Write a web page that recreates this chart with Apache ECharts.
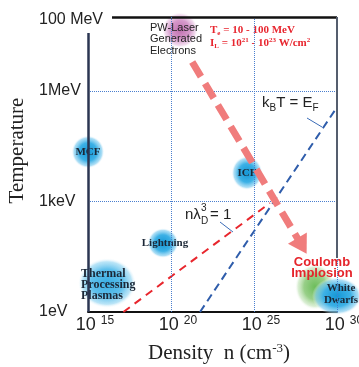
<!DOCTYPE html>
<html>
<head>
<meta charset="utf-8">
<script src="https://cdn.jsdelivr.net/npm/echarts@6/dist/echarts.min.js"></script>
<style>
  html, body { margin: 0; padding: 0; background: #fff; }
  #chart { width: 359px; height: 367px; }
</style>
</head>
<body>
<div id="chart"></div>
<script>
// axis ticks (density in cm^-3, temperature in eV)
const densityTicks = [1e15, 1e20, 1e25, 1e30];
const tempTicks = [1, 1e3, 1e6, 1e8];
const tempTickLabels = ['1eV', '1keV', '1MeV', '100 MeV'];

// plasma regimes (bubble centres)
const regimeNames = ['PW-Laser\nGenerated\nElectrons', 'MCF', 'ICF', 'Lightning',
  'Thermal\nProcessing\nPlasmas', 'Coulomb\nImplosion', 'White\nDwarfs'];
const regimeDensity = [3.5e20, 1e15, 3.8e24, 3.3e19, 1.4e16, 4.7e28, 1e30];
const regimeTemp = [4.4e7, 2.2e4, 5.9e3, 74, 6.1, 4.8, 2.7];

// k_B T = E_F  (blue dashed)
const fermiDensity = [5.6e21, 1e30];
const fermiTemp = [1, 3.6e5];
// n lambda_D^3 = 1  (red dashed)
const debyeDensity = [1.35e17, 9e25];
const debyeTemp = [1, 900];
// laser electrons -> coulomb implosion (big arrow)
const pathDensity = [1.9e21, 7.8e27];
const pathTemp = [6e6, 62];

const SANS = 'Liberation Sans';
const SERIF = 'Liberation Serif';

function glow(c0, c1, c2) {
  return {
    type: 'radial', x: 0.5, y: 0.5, r: 0.5,
    colorStops: [
      { offset: 0, color: c0 },
      { offset: 0.55, color: c1 },
      { offset: 0.85, color: c2 },
      { offset: 1, color: 'rgba(255,255,255,0)' }
    ]
  };
}
const blue = glow('#1597d6', '#3db1e6', 'rgba(130,205,240,0.65)');
const lightBlue = glow('#3aaee3', '#5fc0ec', 'rgba(150,215,243,0.65)');
const pink = glow('#c070b0', '#d69acb', 'rgba(232,195,226,0.6)');
const green = glow('#6dbd5b', '#98cf88', 'rgba(195,228,185,0.6)');
const ellipse = 'path://M0,50 A50,50 0 1 1 100,50 A50,50 0 1 1 0,50 Z';

const bubbleLabel = { show: true, position: 'inside', fontFamily: SERIF, fontWeight: 'bold', fontSize: 11, color: '#1b2736', lineHeight: 12 };
// per-bubble looks, same order as regimeNames
const bubbleLook = [
  { size: [36, 36], color: pink, label: { fontFamily: SANS, fontWeight: 'normal', color: '#222', align: 'left', offset: [-30, 9], lineHeight: 11.5 } },
  { size: [33, 33], color: blue, label: {} },
  { size: [31, 34], color: blue, label: {} },
  { size: [31, 30], color: blue, label: { offset: [2, 0] } },
  { size: [58, 50], color: lightBlue, label: { align: 'left', offset: [-26, 2], fontSize: 12, lineHeight: 11 } },
  { size: [40, 46], color: green, label: { fontFamily: SANS, fontSize: 13, color: '#e5242b', offset: [7, -19], lineHeight: 11.5 } },
  { size: [50, 38], color: blue, label: { offset: [4, -2] } }
];

const bubbles = regimeNames.map((name, i) => ({
  name: name,
  value: [regimeDensity[i], regimeTemp[i]],
  symbolSize: bubbleLook[i].size,
  itemStyle: { color: bubbleLook[i].color, opacity: 1 },
  label: Object.assign({}, bubbleLabel, bubbleLook[i].label, { formatter: name })
}));

const gridLine = { color: '#4a7fcf', width: 1, type: 'dotted' };

const option = {
  animation: false,
  grid: { left: 88, right: 22, top: 17, bottom: 55, outerBoundsMode: 'none' },
  xAxis: {
    type: 'log', logBase: 10, min: densityTicks[0], max: densityTicks[densityTicks.length - 1], interval: 5,
    axisLine: { show: true, lineStyle: { color: '#111', width: 2 } },
    axisTick: { show: false },
    splitLine: { show: false },
    axisLabel: {
      margin: 3,
      formatter: v => '{b|10}{s|' + Math.round(Math.log10(v)) + '}',
      rich: {
        b: { fontFamily: SANS, fontSize: 18, color: '#222', padding: [0, 0, 0, 14] },
        s: { fontFamily: SANS, fontSize: 12, color: '#222', padding: [0, 0, 9, 5] }
      }
    },
    name: '{a|Density  n (cm}{s|-3}{a|)}',
    nameLocation: 'middle', nameGap: 30,
    nameTextStyle: {
      padding: [0, 0, 0, 13],
      rich: {
        a: { fontFamily: SERIF, fontSize: 21, color: '#222' },
        s: { fontFamily: SERIF, fontSize: 13, color: '#222', padding: [0, 0, 10, 0] }
      }
    }
  },
  yAxis: {
    type: 'log', logBase: 10, min: tempTicks[0], max: tempTicks[tempTicks.length - 1], interval: 1,
    axisLine: { show: false },
    axisTick: { show: false },
    splitLine: { show: false },
    axisLabel: {
      align: 'left', margin: 49,
      fontFamily: SANS, fontSize: 16, color: '#222',
      formatter: v => {
        const i = tempTicks.findIndex(t => Math.abs(Math.log10(t) - Math.log10(v)) < 0.01);
        if (i < 0) return '';
        return i === tempTicks.length - 1 ? '{top|' + tempTickLabels[i] + '}' : tempTickLabels[i];
      },
      rich: { top: { fontFamily: SANS, fontSize: 16, color: '#222', padding: [6, 0, 0, 0] } }
    },
    name: 'Temperature',
    nameLocation: 'middle', nameGap: 52,
    nameTextStyle: { fontFamily: SERIF, fontSize: 21, color: '#222', padding: [0, 0, 0, 28] }
  },
  series: [
    {
      // dotted reference lines behind bubbles
      type: 'line', data: [], silent: true,
      markLine: {
        silent: true, symbol: 'none', label: { show: false }, lineStyle: gridLine,
        data: [{ xAxis: densityTicks[2] }, { xAxis: densityTicks[3] }, { yAxis: tempTicks[1] }, { yAxis: tempTicks[2] }]
      }
    },
    {
      // frame
      type: 'line', data: [], silent: true,
      markLine: {
        silent: true, symbol: 'none', label: { show: false },
        lineStyle: { type: 'solid' },
        data: [
          [{ coord: [2.8e16, 1e8], lineStyle: { color: '#111', width: 2.5, type: 'solid' } }, { coord: [1e30, 1e8] }],
          [{ coord: [1e15, 3.7e7], lineStyle: { color: '#2b3652', width: 2.5, type: 'solid' } }, { coord: [1e15, 1] }],
          [{ coord: [1e30, 1e8], lineStyle: { color: '#555e6e', width: 2, type: 'solid' } }, { coord: [1e30, 29] }]
        ]
      }
    },
    {
      // 10^20 line sits over the bubbles
      type: 'line', data: [], silent: true, z: 4,
      markLine: {
        silent: true, symbol: 'none', label: { show: false }, lineStyle: gridLine,
        data: [{ xAxis: densityTicks[1] }]
      }
    },
    {
      type: 'line', showSymbol: false, silent: true,
      lineStyle: { color: '#2f5dab', width: 2, type: [8, 5] },
      data: fermiDensity.map((d, i) => [d, fermiTemp[i]])
    },
    {
      type: 'line', showSymbol: false, silent: true,
      lineStyle: { color: '#e8262d', width: 2, type: [8, 6] },
      data: debyeDensity.map((d, i) => [d, debyeTemp[i]])
    },
    {
      type: 'line', data: [], silent: true,
      markLine: {
        silent: true, symbol: ['none', 'triangle'], symbolSize: [22, 18], label: { show: false },
        lineStyle: { color: '#f07c7c', width: 7, type: [17, 8] },
        itemStyle: { color: '#f07c7c' },
        data: [[{ coord: [pathDensity[0], pathTemp[0]] }, { coord: [pathDensity[1], pathTemp[1]] }]]
      }
    },
    {
      type: 'scatter', symbol: ellipse, clip: false, silent: true, z: 3,
      itemStyle: { opacity: 1 },
      data: bubbles
    }
  ],
  graphic: [
    {
      type: 'text', x: 210, y: 30,
      style: {
        text: '{b|T}{s|e}{b| = 10 - 100 MeV}', verticalAlign: 'middle',
        rich: {
          b: { fontFamily: SERIF, fontWeight: 'bold', fontSize: 11, fill: '#e8262f' },
          s: { fontFamily: SERIF, fontWeight: 'bold', fontSize: 7, fill: '#e8262f', padding: [6, 0, 0, 0] }
        }
      }
    },
    {
      type: 'text', x: 210, y: 43,
      style: {
        text: '{b|I}{s|L}{b| = 10}{p|21}{b| - 10}{p|23}{b| W/cm}{p|2}', verticalAlign: 'middle',
        rich: {
          b: { fontFamily: SERIF, fontWeight: 'bold', fontSize: 11, fill: '#e8262f' },
          s: { fontFamily: SERIF, fontWeight: 'bold', fontSize: 7, fill: '#e8262f', padding: [6, 0, 0, 0] },
          p: { fontFamily: SERIF, fontWeight: 'bold', fontSize: 7, fill: '#e8262f', padding: [0, 0, 6, 0] }
        }
      }
    },
    {
      type: 'text', x: 262, y: 103,
      style: {
        text: '{n|k}{s|B}{n|T = E}{s|F}', verticalAlign: 'middle',
        rich: {
          n: { fontFamily: SANS, fontSize: 15, fill: '#222' },
          s: { fontFamily: SANS, fontSize: 10, fill: '#222', padding: [10, 0, 0, 0] }
        }
      }
    },
    { type: 'line', shape: { x1: 307, y1: 118, x2: 322, y2: 127 }, style: { stroke: '#3b6cb7', lineWidth: 1 } },
    { type: 'text', x: 185, y: 215, style: { text: 'nλ', fontFamily: SANS, fontSize: 15, fill: '#222', verticalAlign: 'middle' } },
    { type: 'text', x: 201, y: 208, style: { text: '3', fontFamily: SANS, fontSize: 10, fill: '#222', verticalAlign: 'middle' } },
    { type: 'text', x: 201, y: 221, style: { text: 'D', fontFamily: SANS, fontSize: 10, fill: '#222', verticalAlign: 'middle' } },
    { type: 'text', x: 210, y: 215, style: { text: '= 1', fontFamily: SANS, fontSize: 15, fill: '#222', verticalAlign: 'middle' } },
    { type: 'line', shape: { x1: 220, y1: 222, x2: 233, y2: 232 }, style: { stroke: '#3b6cb7', lineWidth: 1 } }
  ]
};

const chart = echarts.init(document.getElementById('chart'));
chart.setOption(option);
</script>
</body>
</html>
